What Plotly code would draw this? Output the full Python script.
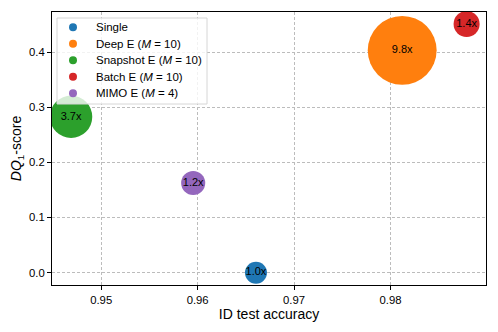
import plotly.graph_objects as go

methods = ["Single", "Deep E (<i>M</i> = 10)", "Snapshot E (<i>M</i> = 10)",
           "Batch E (<i>M</i> = 10)", "MIMO E (<i>M</i> = 4)"]
id_acc = [0.96605, 0.98121, 0.94688, 0.98789, 0.95954]
dq_score = [0.0, 0.403, 0.2826, 0.4507, 0.1627]
cost = [1.0, 9.8, 3.7, 1.4, 1.2]
cost_labels = ["1.0x", "9.8x", "3.7x", "1.4x", "1.2x"]
colors = ["#1f77b4", "#ff7f0e", "#2ca02c", "#d62728", "#9467bd"]

font = "Liberation Sans, Arial, sans-serif"
W, H = 498, 332
L, R, T, B = 52, 12, 12, 47
pw, ph = W - L - R, H - T - B

def px_x(p):
    return (p - L) / pw

def px_y(p):
    return 1 - (p - T) / ph

fig = go.Figure()
for i, name in enumerate(methods):
    # bubble, area proportional to relative cost
    fig.add_trace(go.Scatter(
        x=[id_acc[i]], y=[dq_score[i]], mode="markers+text", name=name,
        text=[cost_labels[i]], textposition="middle center",
        textfont=dict(family=font, size=11, color="black"),
        marker=dict(color=colors[i], size=[cost[i]], sizemode="area",
                    sizeref=1 / 242, opacity=1, line=dict(width=0)),
        showlegend=False, hoverinfo="skip"))

# matplotlib-style legend box (upper left, semi-transparent frame)
shapes = [dict(type="rect", xref="paper", yref="paper", layer="above",
               x0=px_x(57), x1=px_x(207), y0=px_y(104), y1=px_y(18),
               fillcolor="rgba(255,255,255,0.8)",
               line=dict(color="#d6d6d6", width=1))]
annotations = []
for i, name in enumerate(methods):
    yc = 27.3 + i * 16.5
    shapes.append(dict(type="circle", xref="paper", yref="paper", layer="above",
                       xsizemode="pixel", ysizemode="pixel",
                       xanchor=px_x(73), yanchor=px_y(yc),
                       x0=-4, x1=4, y0=-4, y1=4,
                       fillcolor=colors[i], line=dict(width=0)))
    annotations.append(dict(xref="paper", yref="paper", x=px_x(94), y=px_y(yc),
                            text=name, showarrow=False, xanchor="left",
                            yanchor="middle", font=dict(size=11.5)))

fig.update_layout(
    width=W, height=H,
    margin=dict(l=L, r=R, t=T, b=B),
    plot_bgcolor="white", paper_bgcolor="white",
    font=dict(family=font, size=11.3, color="black"),
    showlegend=False, shapes=shapes, annotations=annotations,
)
axis_style = dict(showline=True, linecolor="black", linewidth=1, mirror=True,
                  ticks="outside", ticklen=4, tickcolor="black",
                  showgrid=True, gridcolor="#bcbcbc", gridwidth=0.8,
                  griddash="3px,2px", zeroline=False, automargin=False,
                  tickfont=dict(size=11.3))
fig.update_xaxes(range=[0.9449, 0.9899], tickvals=[0.95, 0.96, 0.97, 0.98],
                 tickformat=".2f", title=dict(text="ID test accuracy", standoff=4),
                 **axis_style)
fig.update_yaxes(range=[-0.0223, 0.4725], tickvals=[0.0, 0.1, 0.2, 0.3, 0.4],
                 tickformat=".1f",
                 title=dict(text="<i>DQ</i><sub>1</sub>-score", standoff=4),
                 **axis_style)

fig.write_html("out.html", config={"displayModeBar": False},
               post_script="document.body.style.margin='0px';")
